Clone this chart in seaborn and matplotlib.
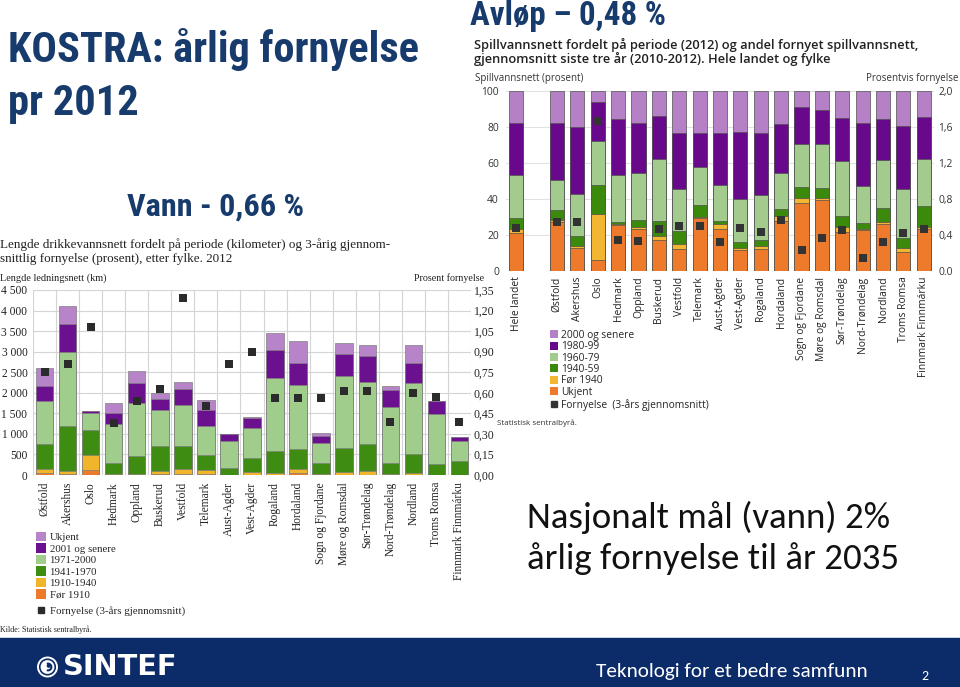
import numpy as np
import pandas as pd
import matplotlib
matplotlib.use("Agg")
import matplotlib.pyplot as plt
import seaborn as sns
from matplotlib.patches import Patch, Rectangle, Circle, Wedge
from matplotlib.lines import Line2D
from matplotlib import font_manager as fm

# ---------------- data: Vann (drikkevannsnett, km) ----------------
vann_fylker = ["Østfold", "Akershus", "Oslo", "Hedmark", "Oppland", "Buskerud",
               "Vestfold", "Telemark", "Aust-Agder", "Vest-Agder", "Rogaland",
               "Hordaland", "Sogn og Fjordane", "Møre og Romsdal", "Sør-Trøndelag",
               "Nord-Trøndelag", "Nordland", "Troms Romsa", "Finnmark Finnmárku"]
vann_for_1910 = [50, 20, 120, 5, 5, 30, 30, 20, 5, 10, 10, 40, 5, 10, 10, 5, 10, 5, 5]
vann_1910_1940 = [105, 80, 370, 15, 20, 70, 120, 100, 5, 70, 45, 100, 15, 70, 80, 15, 50, 5, 5]
vann_1941_1970 = [595, 1100, 600, 280, 435, 600, 550, 370, 160, 330, 535, 500, 280, 580, 660, 270, 440, 250, 340]
vann_1971_2000 = [1050, 1800, 410, 940, 1290, 870, 1010, 690, 650, 740, 1760, 1560, 490, 1740, 1520, 1370, 1730, 1230, 470]
vann_2001 = [370, 680, 60, 280, 500, 280, 390, 400, 170, 240, 700, 520, 170, 550, 620, 410, 500, 300, 100]
vann_ukjent = [430, 440, 0, 230, 280, 150, 170, 240, 10, 30, 410, 530, 70, 250, 280, 100, 430, 0, 0]
vann_fornyelse = [0.75, 0.81, 1.08, 0.38, 0.54, 0.63, 1.29, 0.50, 0.81, 0.90, 0.56,
                  0.56, 0.56, 0.61, 0.61, 0.39, 0.60, 0.57, 0.39]
vann_km_ticks = [0, 500, 1000, 1500, 2000, 2500, 3000, 3500, 4000, 4500]
vann_pct_ticks = [0.0, 0.15, 0.30, 0.45, 0.60, 0.75, 0.90, 1.05, 1.20, 1.35]
vann_series = ["Før 1910", "1910-1940", "1941-1970", "1971-2000", "2001 og senere", "Ukjent"]

# ---------------- data: Avløp (spillvannsnett, prosent) ----------------
avlop_fylker = ["Hele landet", "Østfold", "Akershus", "Oslo", "Hedmark", "Oppland",
                "Buskerud", "Vestfold", "Telemark", "Aust-Agder", "Vest-Agder",
                "Rogaland", "Hordaland", "Sogn og Fjordane", "Møre og Romsdal",
                "Sør-Trøndelag", "Nord-Trøndelag", "Nordland", "Troms Romsa",
                "Finnmark Finnmárku"]
avlop_order = ["Hele landet", " "] + avlop_fylker[1:]
avlop_ukjent = [21.0, 27.3, 12.8, 6.3, 25.4, 23.4, 17.1, 12.1, 29.5, 23.6, 11.5, 12.4,
                27.8, 37.8, 39.3, 21.5, 22.6, 26.0, 10.8, 23.4]
avlop_for_1940 = [2.2, 1.3, 1.1, 25.4, 0.8, 0.8, 2.4, 3.1, 0.5, 2.4, 1.3, 1.3,
                  2.6, 2.8, 1.5, 2.8, 0.6, 1.3, 2.2, 0.9]
avlop_1940_59 = [6.3, 5.5, 5.8, 16.0, 1.3, 4.4, 8.1, 7.1, 6.4, 1.8, 3.2, 3.7,
                 3.9, 5.8, 5.4, 6.5, 3.5, 7.8, 5.2, 11.7]
avlop_1960_79 = [23.9, 16.4, 23.0, 24.7, 25.9, 26.1, 34.4, 23.3, 21.5, 20.1, 23.9, 24.7,
                 20.2, 23.9, 24.1, 30.1, 20.8, 26.5, 27.1, 26.2]
avlop_1980_99 = [28.6, 31.5, 37.3, 21.5, 31.2, 27.3, 24.3, 30.8, 18.5, 28.9, 37.5, 34.3,
                 26.9, 21.0, 19.1, 23.9, 34.5, 22.8, 35.4, 23.3]
avlop_2000 = [18.0, 18.0, 20.0, 6.1, 15.4, 18.0, 13.7, 23.6, 23.6, 23.2, 22.6, 23.6,
              18.6, 8.7, 10.6, 15.2, 18.0, 15.6, 19.3, 14.5]
avlop_fornyelse = [0.48, 0.54, 0.55, 1.67, 0.35, 0.33, 0.47, 0.50, 0.50, 0.32, 0.48,
                   0.43, 0.57, 0.23, 0.37, 0.46, 0.15, 0.32, 0.42, 0.47]
avlop_pct_ticks = [0, 20, 40, 60, 80, 100]
avlop_forn_ticks = [0.0, 0.4, 0.8, 1.2, 1.6, 2.0]
avlop_forn_labels = ["0.0", "0,4", "0,8", "1,2", "1,6", "2,0"]
avlop_series = ["Ukjent", "Før 1940", "1940-59", "1960-79", "1980-99", "2000 og senere"]

# ---------------- styling ----------------
W, H = 960, 687
sns.set_style("white")
names = {f.name for f in fm.fontManager.ttflist}
NARROW = "Roboto"
NARROW_STRETCH = "normal"
for cand in ["Liberation Sans Narrow", "Roboto Condensed", "Open Sans Condensed"]:
    if cand in names:
        NARROW = cand
        break
else:
    if any(f.name == "DejaVu Sans" and f.stretch == "condensed" and f.weight in ("bold", 700)
           for f in fm.fontManager.ttflist):
        NARROW, NARROW_STRETCH = "DejaVu Sans", "condensed"
CALIBRI = "Carlito" if "Carlito" in names else "Lato"
SERIF = "Liberation Serif"
SANS = "Open Sans"
plt.rcParams["font.family"] = ["DejaVu Sans"]

NAVY = "#173b6c"
FOOT = "#0b2b69"
vann_colors = ["#ec7a2a", "#f1b52c", "#3e8c12", "#a0cc8c", "#6b1190", "#b784c9"]
avlop_colors = ["#ee7b2c", "#f3b633", "#3b8a0c", "#a2cb8d", "#67098a", "#b680c6"]

fig = plt.figure(figsize=(W / 100, H / 100), dpi=100)
fig.patch.set_facecolor("white")
renderer = fig.canvas.get_renderer()


def put(x, y, s, size=10, width=None, **kw):
    t = fig.text(x / W, 1 - y / H, s, fontsize=size, **kw)
    if width:
        bb = t.get_window_extent(renderer)
        t.set_fontsize(size * width / bb.width)
    return t


def stacked(ax, cats, order, layers, colors, edge, lw, width):
    cum = np.zeros(len(cats))
    cums = []
    for vals in layers:
        cum = cum + np.asarray(vals, float)
        cums.append(cum.copy())
    for c, col in reversed(list(zip(cums, colors))):
        df = pd.DataFrame({"cat": cats, "val": c})
        sns.barplot(data=df, x="cat", y="val", order=order, color=col, width=width,
                    edgecolor=edge, linewidth=lw, errorbar=None, saturation=1, ax=ax)


# ======================= Left chart: Vann =======================
ax1 = fig.add_axes([33 / W, 1 - 475 / H, (471 - 33) / W, (475 - 290) / H])
stacked(ax1, vann_fylker, vann_fylker,
        [vann_for_1910, vann_1910_1940, vann_1941_1970, vann_1971_2000, vann_2001, vann_ukjent],
        vann_colors, "#808080", 0.5, 0.76)
n1 = len(vann_fylker)
ax1.set_xlim(-0.5, n1 - 0.5)
ax1.set_ylim(0, 4500)
ax1.set_yticks(vann_km_ticks)
ax1.set_yticklabels([f"{v:,}".replace(",", " ") for v in vann_km_ticks],
                    fontfamily=SERIF, fontsize=8.3, color="#222222")
ax1.set_xticks(range(n1))
ax1.set_xticklabels(vann_fylker, rotation=90, fontfamily=SERIF, fontsize=8.3,
                    color="#222222", va="top", ha="center")
ax1.set_xticks(np.arange(-0.5, n1, 1), minor=True)
ax1.tick_params(axis="both", which="both", length=0)
ax1.tick_params(axis="y", pad=4)
ax1.tick_params(axis="x", pad=5)
ax1.grid(True, axis="y", color="#d4d4d4", lw=0.8)
ax1.grid(True, axis="x", which="minor", color="#d4d4d4", lw=0.8)
ax1.grid(False, axis="x", which="major")
ax1.set_axisbelow(True)
for s in ax1.spines.values():
    s.set_visible(False)
ax1.set_xlabel("")
ax1.set_ylabel("")

ax2 = ax1.twinx()
dfm = pd.DataFrame({"cat": vann_fylker, "v": vann_fornyelse})
sns.stripplot(data=dfm, x="cat", y="v", order=vann_fylker, jitter=False, marker="s",
              color="#2b2b2b", size=5.2, linewidth=0, ax=ax2, zorder=5)
ax2.set_ylim(0, 1.35)
ax2.set_yticks(vann_pct_ticks)
ax2.set_yticklabels([f"{v:.2f}".replace(".", ",") for v in vann_pct_ticks],
                    fontfamily=SERIF, fontsize=8.5, color="#222222")
ax2.tick_params(axis="y", length=0, pad=2)
ax2.set_xlim(-0.5, n1 - 0.5)
ax2.set_xlabel("")
ax2.set_ylabel("")
for s in ax2.spines.values():
    s.set_visible(False)

# texts of left chart
t_a = put(0, 248, "Lengde drikkevannsnett fordelt på periode (kilometer) og 3-årig gjennom-",
          size=8.6, width=390, family=SERIF, color="#222222", va="baseline")
t_b = put(0, 262, "snittlig fornyelse (prosent), etter fylke. 2012",
          size=8.6, family=SERIF, color="#222222", va="baseline")
t_b.set_fontsize(t_a.get_fontsize())
put(0, 281, "Lengde ledningsnett (km)", size=7.4, family=SERIF, color="#222222", va="baseline")
put(484, 281, "Prosent fornyelse", size=7.2, family=SERIF, color="#222222",
    va="baseline", ha="right")
put(0, 632, "Kilde: Statistisk sentralbyrå.", size=5.8, family=SERIF, color="#222222",
    va="baseline")

leg1 = fig.legend(handles=[Patch(facecolor=c, edgecolor="none", label=l)
                           for c, l in zip(vann_colors[::-1], vann_series[::-1])],
                  loc="upper left", bbox_to_anchor=(36 / W, 1 - 532 / H), frameon=False,
                  prop={"family": SERIF, "size": 7.8}, handlelength=0.95,
                  handleheight=0.95, handletextpad=0.3, labelspacing=0.1,
                  borderpad=0, borderaxespad=0)
leg2 = fig.legend(handles=[Line2D([], [], marker="s", color="#2b2b2b", lw=0,
                                  markersize=5, label="Fornyelse (3-års gjennomsnitt)")],
                  loc="upper left", bbox_to_anchor=(36 / W, 1 - 606 / H), frameon=False,
                  prop={"family": SERIF, "size": 7.8}, handlelength=0.95,
                  handletextpad=0.3, borderpad=0, borderaxespad=0)

# ======================= Right chart: Avløp =======================
ax3 = fig.add_axes([506 / W, 1 - 271 / H, (934 - 506) / W, (271 - 91) / H])
stacked(ax3, avlop_fylker, avlop_order,
        [avlop_ukjent, avlop_for_1940, avlop_1940_59, avlop_1960_79, avlop_1980_99, avlop_2000],
        avlop_colors, "#505050", 0.5, 0.69)
n3 = len(avlop_order)
ax3.set_xlim(-0.5, n3 - 0.5)
ax3.set_ylim(0, 100)
ax3.set_yticks(avlop_pct_ticks)
ax3.set_yticklabels([str(v) for v in avlop_pct_ticks], fontfamily=SANS, fontsize=7.4,
                    color="#333333")
ax3.set_xticks(range(n3))
ax3.set_xticklabels(avlop_order, rotation=90, fontfamily=SANS, fontsize=7.4,
                    color="#222222", va="top", ha="center")
ax3.tick_params(axis="both", length=0)
ax3.tick_params(axis="y", pad=5)
ax3.tick_params(axis="x", pad=4)
ax3.grid(True, axis="y", color="#e2e2e2", lw=0.8)
ax3.grid(False, axis="x")
ax3.set_axisbelow(True)
for s in ax3.spines.values():
    s.set_visible(False)
ax3.set_xlabel("")
ax3.set_ylabel("")

ax4 = ax3.twinx()
dfa = pd.DataFrame({"cat": avlop_fylker, "v": avlop_fornyelse})
sns.stripplot(data=dfa, x="cat", y="v", order=avlop_order, jitter=False, marker="s",
              color="#333333", size=5.2, linewidth=0, ax=ax4, zorder=5)
ax4.set_ylim(0, 2.0)
ax4.set_yticks(avlop_forn_ticks)
ax4.set_yticklabels(avlop_forn_labels, fontfamily=SANS, fontsize=7.4, color="#333333")
ax4.tick_params(axis="y", length=0, pad=3)
ax4.set_xlim(-0.5, n3 - 0.5)
ax4.set_xlabel("")
ax4.set_ylabel("")
for s in ax4.spines.values():
    s.set_visible(False)

t_c = put(474, 49, "Spillvannsnett fordelt på periode (2012) og andel fornyet spillvannsnett,",
          size=8, width=443, family=SANS, weight="semibold", color="#222222", va="baseline")
t_d = put(474, 63, "gjennomsnitt siste tre år (2010-2012). Hele landet og fylke",
          size=8, family=SANS, weight="semibold", color="#222222", va="baseline")
t_d.set_fontsize(t_c.get_fontsize())
put(475, 81, "Spillvannsnett (prosent)", size=7, family=SANS, color="#333333", va="baseline")
put(958, 81, "Prosentvis fornyelse", size=7, family=SANS, color="#333333",
    va="baseline", ha="right")
put(497, 425, "Statistisk sentralbyrå.", size=5.8, family=SANS, color="#333333",
    va="baseline")

leg3 = fig.legend(handles=[Patch(facecolor=c, edgecolor="none", label=l)
                           for c, l in zip(avlop_colors[::-1], avlop_series[::-1])],
                  loc="upper left", bbox_to_anchor=(550 / W, 1 - 330 / H), frameon=False,
                  prop={"family": SANS, "size": 7.4}, handlelength=0.8,
                  handleheight=0.8, handletextpad=0.3, labelspacing=0.03,
                  borderpad=0, borderaxespad=0)
leg4 = fig.legend(handles=[Line2D([], [], marker="s", color="#333333", lw=0,
                                  markersize=4.5, label="Fornyelse  (3-års gjennomsnitt)")],
                  loc="upper left", bbox_to_anchor=(550 / W, 1 - 399 / H), frameon=False,
                  prop={"family": SANS, "size": 7.4}, handlelength=0.8,
                  handletextpad=0.3, borderpad=0, borderaxespad=0)

# ======================= slide texts =======================
t_k = put(8, 62, "KOSTRA: årlig fornyelse", size=29, width=410, family=NARROW,
          stretch=NARROW_STRETCH, weight="bold", color=NAVY, va="baseline")
t_pr = put(8, 115, "pr 2012", size=29, family=NARROW, stretch=NARROW_STRETCH,
           weight="bold", color=NAVY, va="baseline")
t_pr.set_fontsize(t_k.get_fontsize())
put(127, 216, "Vann - 0,66 %", size=20, width=177, family=NARROW, stretch=NARROW_STRETCH,
    weight="bold", color=NAVY, va="baseline")
put(470, 25, "Avløp – 0,48 %", size=20, width=196, family=NARROW, stretch=NARROW_STRETCH,
    weight="bold", color=NAVY, va="baseline")
t1 = put(527, 528, "Nasjonalt mål (vann) 2%", size=22, width=363, family=CALIBRI,
         color="#111111", va="baseline")
t2 = put(527, 569, "årlig fornyelse til år 2035", size=22, family=CALIBRI,
         color="#111111", va="baseline")
t2.set_fontsize(t1.get_fontsize())

# ======================= footer =======================
fig.patches.append(Rectangle((0, 0), 1, 1 - 638 / H, transform=fig.transFigure,
                             facecolor=FOOT, edgecolor="none", zorder=0))
fig.patches.append(Rectangle((0, 1 - 638 / H), 1, 1.5 / H, transform=fig.transFigure,
                             facecolor="#c9d3e3", edgecolor="none", zorder=0))
logo = fig.add_axes([36.5 / W, 1 - 678 / H, 22 / W, 22 / H])
logo.set_zorder(10)
logo.patch.set_visible(False)
logo.set_xlim(-1.05, 1.05)
logo.set_ylim(-1.05, 1.05)
logo.set_aspect("equal")
logo.axis("off")
logo.add_patch(Circle((0, 0), 1.0, facecolor="white", edgecolor="none"))
logo.add_patch(Circle((0, 0), 0.82, facecolor=FOOT, edgecolor="none"))
logo.add_patch(Circle((0, 0), 0.66, facecolor="white", edgecolor="none"))
logo.add_patch(Wedge((0.05, 0.0), 0.42, 250, 110, width=0.2, facecolor=FOOT, edgecolor="none"))
logo.add_patch(Circle((0.12, 0.12), 0.2, facecolor=FOOT, edgecolor="none"))
put(63, 675, "SINTEF", size=17, width=115, family="DejaVu Sans", weight="bold",
    color="white", va="baseline", zorder=10)
put(596, 677, "Teknologi for et bedre samfunn", size=14, width=274, family=CALIBRI,
    color="white", va="baseline", zorder=10)
put(921, 680, "2", size=10, family=CALIBRI, color="white", va="baseline", zorder=10)

fig.savefig("out.png", dpi=100, facecolor="white")
